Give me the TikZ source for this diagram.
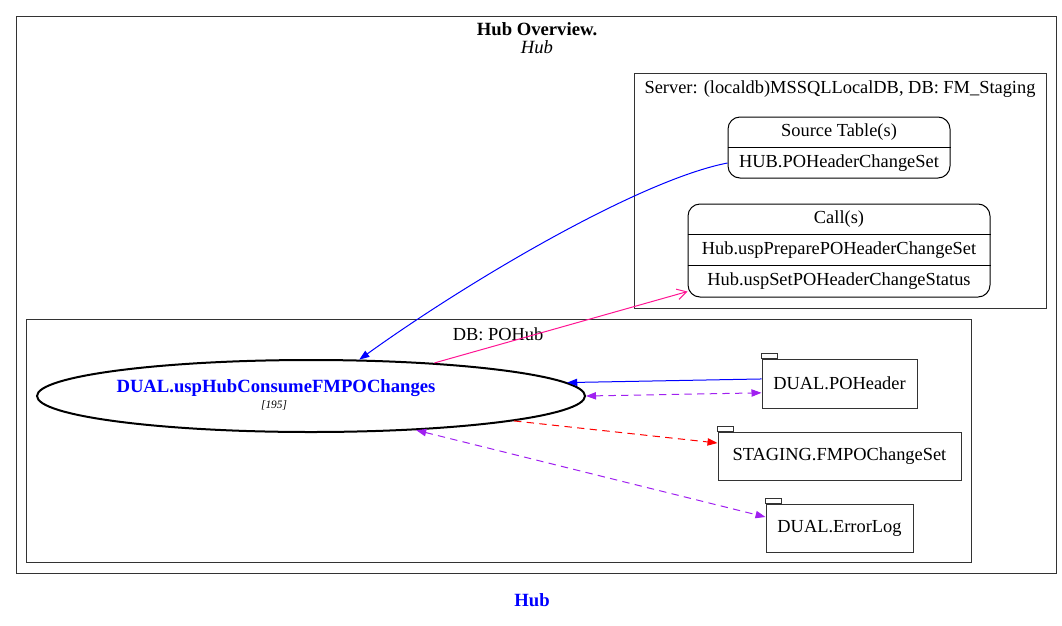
\documentclass[tikz,border=0pt]{standalone}
\usepackage{fontspec}
\setmainfont{Liberation Serif}
\usepackage{xcolor}
\usepackage{tikz}
\usetikzlibrary{arrows.meta,shapes.geometric}
\definecolor{hbBlue}{HTML}{0000FF}
\definecolor{hbPink}{HTML}{FF1493}
\definecolor{hbPurple}{HTML}{A020F0}
\definecolor{hbRed}{HTML}{FF0000}
\definecolor{hbLine}{HTML}{333333}

\begin{document}
\begin{tikzpicture}[x=0.75pt,y=-0.75pt,
  lbl/.style={font=\fontsize{13.8}{16}\selectfont,inner sep=0pt},
  recbox/.style={draw=black,line width=0.75pt,rounded corners=9pt,inner sep=0pt},
  folder/.style={draw=hbLine,line width=0.75pt,inner sep=0pt,font=\fontsize{13.8}{16}\selectfont},
  proc/.style={draw,ellipse,line width=1.5pt,inner sep=0pt,minimum width=411pt,minimum height=54pt},
  tip/.style={-{Triangle[length=7.5pt,width=5.5pt]}},
  bitip/.style={{Triangle[length=7.5pt,width=5.5pt]}-{Triangle[length=7.5pt,width=5.5pt]}},
  edge/.style={line width=0.75pt},
  dsh/.style={dash pattern=on 5.5pt off 4pt}]
\useasboundingbox (0,0) rectangle (1062,625);
% clusters
\draw[hbLine,line width=0.75pt](16,16)rectangle(1056,573);
\node[lbl,font=\fontsize{14}{16}\selectfont\bfseries] (ttl) at (537,29) {Hub Overview.};
\node[lbl,font=\fontsize{14}{16}\selectfont\itshape] (ttlsub) at (537,47) {Hub};
\draw[hbLine,line width=0.75pt](634,73)rectangle(1046,308);
\node[lbl] (srvlbl) at (840,89) {Server: (localdb)MSSQLLocalDB, DB: FM\_Staging};
\draw[hbLine,line width=0.75pt](26,319)rectangle(971,562);
\node[lbl] (dblbl) at (498,334) {DB: POHub};
% records
\node[recbox,minimum width=166.5pt,minimum height=45.75pt] (src) at (839,147.5) {};
\node[lbl] (srch) at (839,132) {Source Table(s)};
\node[lbl] (srcr) at (839,163) {HUB.POHeaderChangeSet};
\draw[line width=0.75pt](src.west)--(src.east);
\node[recbox,minimum width=226.5pt,minimum height=69.75pt] (call) at (839,250.5) {};
\node[lbl] (callh) at (839,219) {Call(s)};
\node[lbl] (callr1) at (839,250) {Hub.uspPreparePOHeaderChangeSet};
\node[lbl] (callr2) at (839,281) {Hub.uspSetPOHeaderChangeStatus};
\draw[line width=0.75pt](call.west|-0,234.5)--(call.east|-0,234.5);
\draw[line width=0.75pt](call.west|-0,265.5)--(call.east|-0,265.5);
% procedure
\node[proc] (proc) at (311,396) {};
\node[lbl,text=hbBlue,font=\fontsize{14}{16}\selectfont\bfseries] (procname) at (276,388) {DUAL.uspHubConsumeFMPOChanges};
\node[lbl,font=\fontsize{8.5}{10}\selectfont\itshape] (procline) at (274,405) {[195]};
% tables
\node[folder,minimum width=116.25pt,minimum height=36.75pt] (poh) at (839.5,383.5) {DUAL.POHeader};
\node[folder,minimum width=182.25pt,minimum height=36pt] (stg) at (839.5,456) {STAGING.FMPOChangeSet};
\node[folder,minimum width=110.25pt,minimum height=36pt] (err) at (839.5,528) {DUAL.ErrorLog};
\foreach \t in {poh,stg,err}
  \draw[hbLine,line width=0.75pt](\t.north west)rectangle++(16,-5);
% edges
\draw[edge,tip,hbBlue](src.west|-srcr) .. controls (640,180) and (470,280) .. (proc.37);
\draw[edge,hbPink,-{Straight Barb[length=7pt,width=8pt]}](proc.15)--([yshift=4.5pt]call.south west);
\draw[edge,tip,hbBlue]([yshift=3.4pt]poh.west)--(proc.3);
\draw[edge,dsh,bitip,hbPurple](proc.east)--([yshift=-7pt]poh.west);
\draw[edge,dsh,tip,hbRed](proc.353.5)--([yshift=9.75pt]stg.west);
\draw[edge,dsh,bitip,hbPurple](proc.342)--([yshift=8.25pt]err.west);
\node[lbl,text=hbBlue,font=\fontsize{14}{16}\selectfont\bfseries] (foot) at (532,600) {Hub};
\end{tikzpicture}
\end{document}
